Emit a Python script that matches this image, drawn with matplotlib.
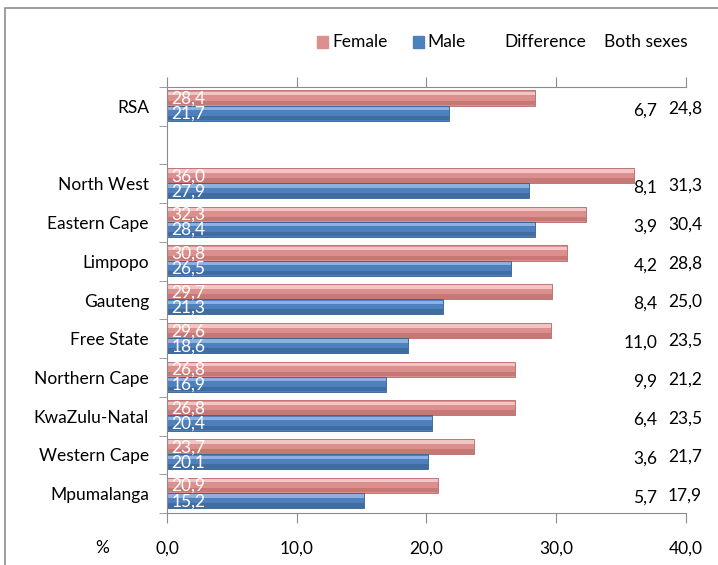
#!/usr/bin/env python

from matplotlib import pyplot as plt
from matplotlib.patches import Rectangle
import numpy as np

plt.rcParams['font.family'] = ['Lato', 'DejaVu Sans']

# rows from top to bottom, '' is the empty gap row
regions = ['RSA', '', 'North West', 'Eastern Cape', 'Limpopo', 'Gauteng',
           'Free State', 'Northern Cape', 'KwaZulu-Natal', 'Western Cape',
           'Mpumalanga']
female = [28.4, None, 36.0, 32.3, 30.8, 29.7, 29.6, 26.8, 26.8, 23.7, 20.9]
male = [21.7, None, 27.9, 28.4, 26.5, 21.3, 18.6, 16.9, 20.4, 20.1, 15.2]
difference = ['6,7', '', '8,1', '3,9', '4,2', '8,4', '11,0', '9,9', '6,4', '3,6', '5,7']
both_sexes = ['24,8', '', '31,3', '30,4', '28,8', '25,0', '23,5', '21,2', '23,5', '21,7', '17,9']
x_ticks = [0, 10, 20, 30, 40]
x_tick_labels = ['0,0', '10,0', '20,0', '30,0', '40,0']

female_col = '#DC908E'
female_dark = '#B86866'
female_light = '#F2C4C3'
male_col = '#4F80BE'
male_dark = '#35608F'
male_light = '#8DB0E0'
fs = 12.5


def draw_bar(ax, yc, w, h, col, dark, light):
    ax.barh(yc, w, height=h, color=col, edgecolor=dark, linewidth=0.6)
    # lighter strip on top to mimic the glossy shading
    ax.barh(yc - h * 0.3, w, height=h * 0.22, color=light, linewidth=0)
    ax.barh(yc + h * 0.32, w, height=h * 0.3, color=dark, linewidth=0, alpha=0.6)


def main():
    fig = plt.figure(figsize=(7.18, 5.65), dpi=100)
    # outer chart frame
    fig.patches.append(Rectangle((5 / 718, -0.01), 1.0, 1 - 8 / 565 + 0.01,
                                 transform=fig.transFigure, fill=False,
                                 edgecolor='#8c8c8c', linewidth=1.2))
    ax = fig.add_axes([0.2326, 0.092, 0.7228, 0.754])

    n = len(regions)
    y = np.arange(n)
    h = 0.39
    for i in range(n):
        if female[i] is None:
            continue
        yf = y[i] - h / 2 - 0.02
        ym = y[i] + h / 2 - 0.02
        draw_bar(ax, yf, female[i], h, female_col, female_dark, female_light)
        draw_bar(ax, ym, male[i], h, male_col, male_dark, male_light)
        ax.text(0.35, yf + 0.02, f'{female[i]:.1f}'.replace('.', ','),
                color='white', fontsize=fs, va='center', ha='left')
        ax.text(0.35, ym + 0.02, f'{male[i]:.1f}'.replace('.', ','),
                color='white', fontsize=fs, va='center', ha='left')
        ax.text(37.8, y[i] + 0.1, difference[i], fontsize=fs, va='center', ha='right')
        ax.text(38.6, y[i] + 0.05, both_sexes[i], fontsize=fs, va='center', ha='left',
                clip_on=False)

    ax.set_xlim(0, 40)
    ax.set_ylim(n - 0.5, -0.5)
    ax.set_xticks(x_ticks)
    ax.set_xticklabels(x_tick_labels)
    ax.set_yticks(y)
    ax.set_yticklabels(regions)
    ax.set_yticks(np.arange(n + 1) - 0.5, minor=True)
    ax.tick_params(axis='y', which='major', length=0, pad=13, labelsize=fs)
    ax.tick_params(axis='y', which='minor', length=6, color='#8c8c8c', direction='out')
    ax.tick_params(axis='x', which='major', length=7, color='#8c8c8c', direction='out',
                   top=True, bottom=True, labeltop=False, pad=13, labelsize=fs)
    for s in ['left', 'top', 'bottom']:
        ax.spines[s].set_color('#8c8c8c')
    ax.spines['right'].set_visible(False)

    fig.text(102 / 718, 1 - 548 / 565, '%', fontsize=fs, ha='center', va='center')

    # legend / column headers
    ly = 1 - 42 / 565
    fig.patches.append(Rectangle((317 / 718, ly - 6 / 565), 11 / 718, 12 / 565,
                                 transform=fig.transFigure, color=female_col))
    fig.text(332 / 718, ly, 'Female', fontsize=fs, va='center')
    fig.patches.append(Rectangle((413 / 718, ly - 6 / 565), 11 / 718, 12 / 565,
                                 transform=fig.transFigure, color=male_col))
    fig.text(427 / 718, ly, 'Male', fontsize=fs, va='center')
    fig.text(504 / 718, ly, 'Difference', fontsize=fs, va='center')
    fig.text(604 / 718, ly, 'Both sexes', fontsize=fs, va='center')

    plt.savefig('out.png', dpi=100)


main()
